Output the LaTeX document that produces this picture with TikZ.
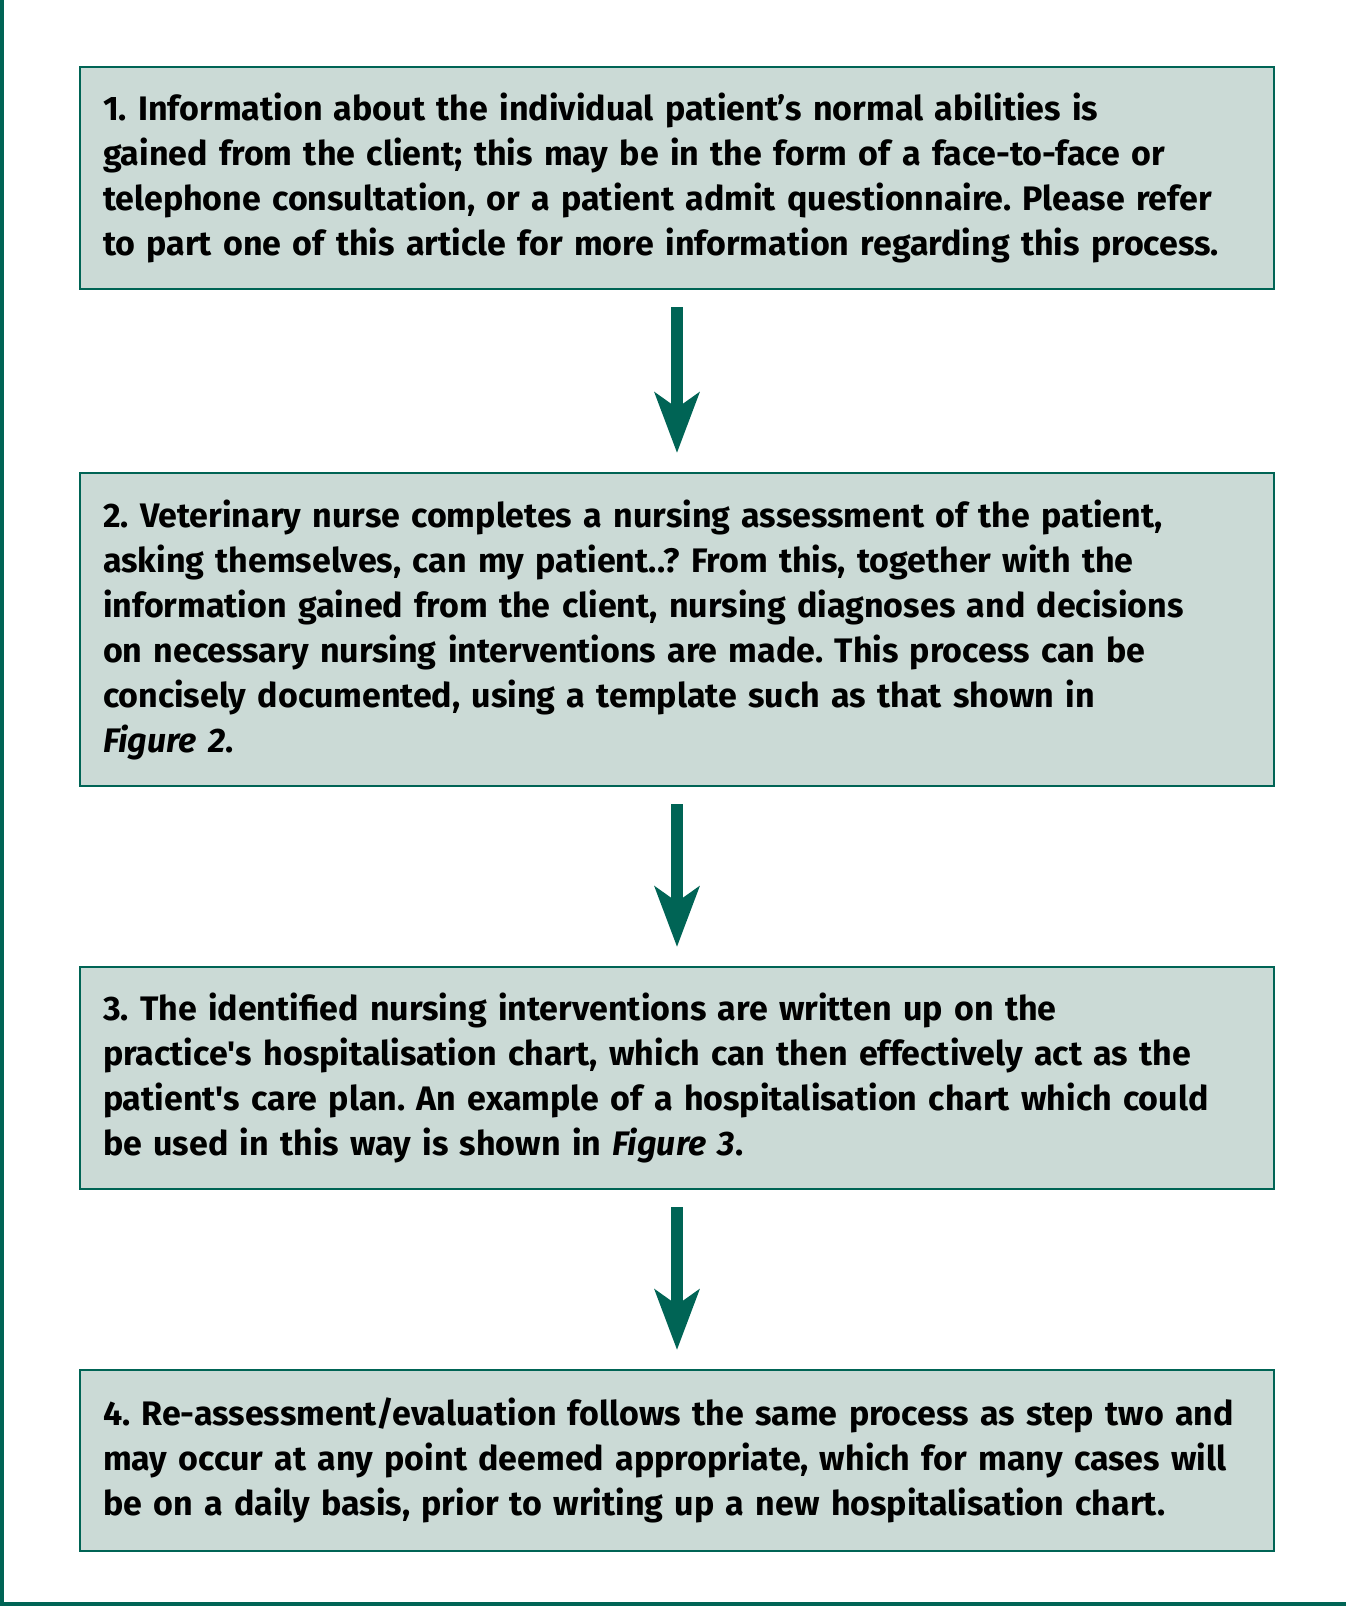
\documentclass[tikz,border=0pt]{standalone}
\usepackage{fontspec}
\setmainfont{Fira Sans}
\usetikzlibrary{positioning,arrows.meta}
\definecolor{DeepTeal}{HTML}{006455}
\definecolor{SoftSage}{HTML}{CBDAD6}
\frenchspacing

\begin{document}
\begin{tikzpicture}[x=1pt,y=1pt,every node/.style={font=\fontsize{34}{45}\selectfont\bfseries},node distance=182pt,
  stepbox/.style={draw=DeepTeal,line width=2pt,fill=SoftSage,minimum width=1194pt,inner xsep=23pt,text width=1148pt,align=left},
  flow/.style={-{Stealth[length=60pt,width=44pt,inset=15pt]},line width=12pt,DeepTeal,shorten <=17pt,shorten >=19pt}]
  \useasboundingbox (0,0) rectangle (1346,-1606);
  \fill[DeepTeal] (0,0) rectangle (4,-1606);
  \fill[DeepTeal] (0,-1602) rectangle (1346,-1606);
  \node[stepbox,anchor=north,minimum height=222pt] (one) at (677,-66) {1. Information about the individual patient’s normal abilities is\\gained from the client; this may be in the form of a face-to-face or\\telephone consultation, or a patient admit questionnaire. Please refer\\to part one of this article for more information regarding this process.};
  \node[stepbox,below=of one,minimum height=313pt] (two) {2. Veterinary nurse completes a nursing assessment of the patient,\\asking themselves, can my patient..? From this, together with the\\information gained from the client, nursing diagnoses and decisions\\on necessary nursing interventions are made. This process can be\\concisely documented, using a template such as that shown in\\\textit{Figure 2}.};
  \node[stepbox,below=179pt of two,minimum height=222pt] (three) {3. The identified nursing interventions are written up on the\\practice\textquotesingle s hospitalisation chart, which can then effectively act as the\\patient\textquotesingle s care plan. An example of a hospitalisation chart which could\\be used in this way is shown in \textit{Figure 3}.};
  \node[stepbox,below=179pt of three,minimum height=181pt] (four) {4. Re-assessment/evaluation follows the same process as step two and\\may occur at any point deemed appropriate, which for many cases will\\be on a daily basis, prior to writing up a new hospitalisation chart.};
  \draw[flow] (one) -- (two);
  \draw[flow] (two) -- (three);
  \draw[flow] (three) -- (four);
\end{tikzpicture}
\end{document}
